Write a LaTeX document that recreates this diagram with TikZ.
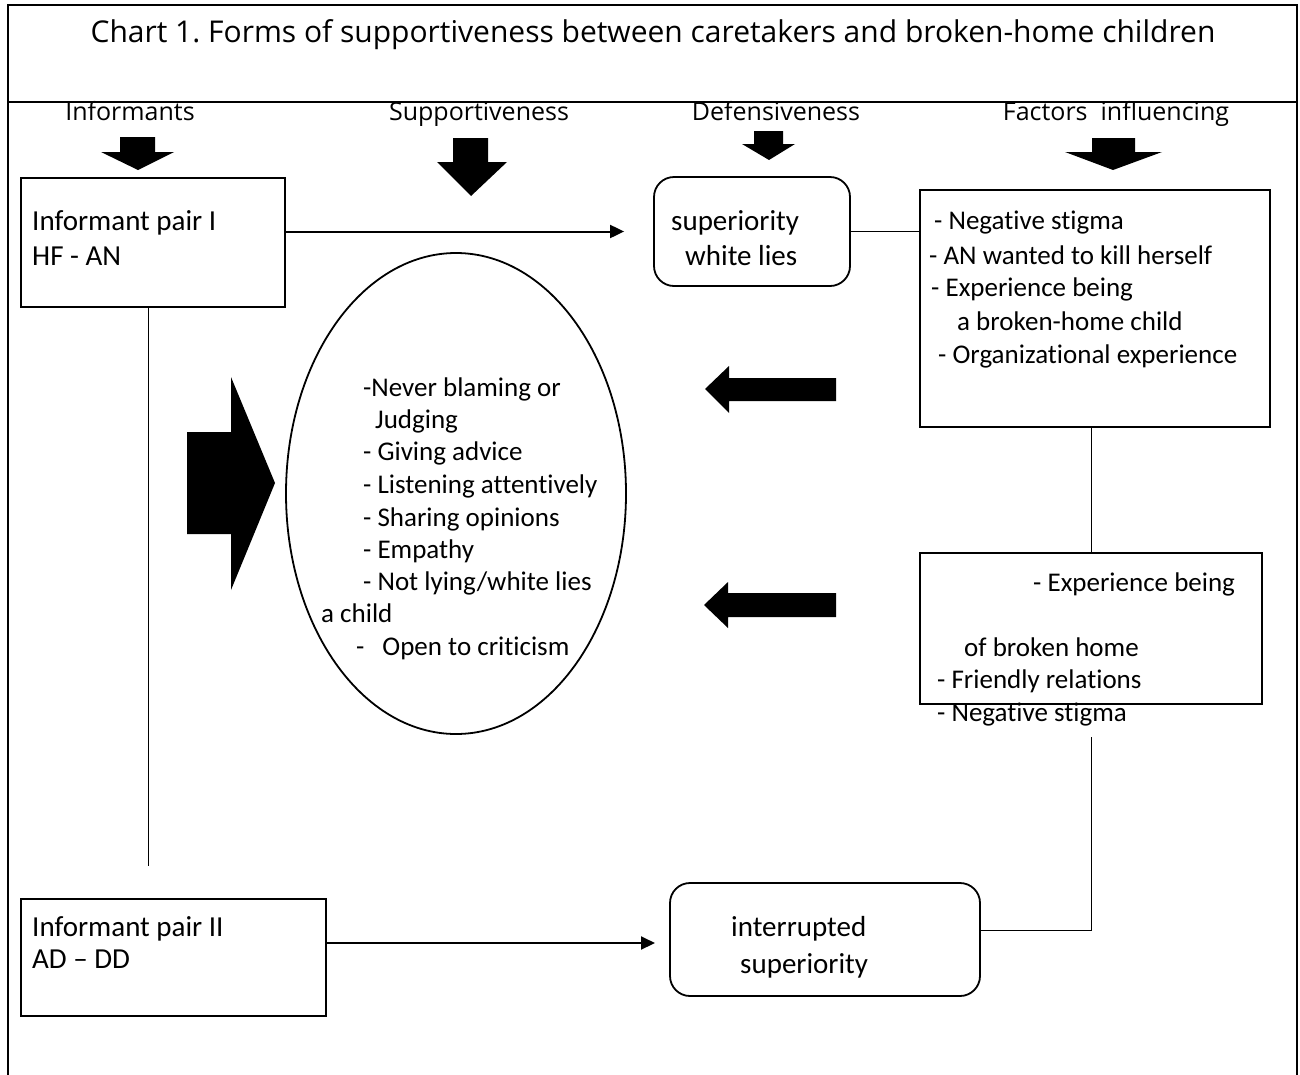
\documentclass[tikz,border=0pt]{standalone}
\usepackage{fontspec}
\setmainfont{Carlito}[Ligatures=NoCommon]
\newfontfamily\hdrfont{Open Sans}
\usetikzlibrary{arrows.meta,shapes.geometric}
\frenchspacing
\begin{document}
\begin{tikzpicture}[x=1pt,y=-1pt,
  box/.style={draw,line width=1.8pt,inner sep=0pt},
  rbox/.style={box,rounded corners=20pt},
  txt/.style={anchor=base west,inner sep=0pt,font=\fontsize{27}{32}\selectfont},
  lbl/.style={anchor=base west,inner sep=0pt,font=\fontsize{29}{34}\selectfont},
  hdr/.style={anchor=base,inner sep=0pt,font=\hdrfont\fontsize{25}{30}\selectfont},
  conn/.style={line width=1pt},
  arr/.style={line width=2pt,-{Triangle[length=14pt,width=13pt]}},
  blk/.style={fill=black}]
\useasboundingbox (0,0) rectangle (1300,1074);
\clip (0,0) rectangle (1300,1074);
% frame
\draw[line width=2pt] (8,5) rectangle (1297,1110);
\draw[line width=2pt] (8,102) -- (1297,102);
\node[inner sep=0pt,font=\hdrfont\fontsize{30}{36}\selectfont] (title) at (653,35) {Chart 1. Forms of supportiveness between caretakers and broken-home children};
% headers
\node[hdr] (h1) at (130,120) {Informants};
\node[hdr] (h2) at (479,120) {Supportiveness};
\node[hdr] (h3) at (776,120) {Defensiveness};
\node[hdr] (h4) at (1116,120) {Factors~ influencing};
% block arrows down
\fill[blk] (120,137) -- (155,137) -- (155,152) -- (174,152) -- (138,170) -- (101,152) -- (120,152) -- cycle;
\fill[blk] (453,138) -- (488,138) -- (488,162) -- (507,162) -- (471,196) -- (437,162) -- (453,162) -- cycle;
\fill[blk] (754,131) -- (783,131) -- (783,144) -- (795,144) -- (769,160) -- (742,144) -- (754,144) -- cycle;
\fill[blk] (1092,138) -- (1135,138) -- (1135,152) -- (1162,152) -- (1113,170) -- (1065,152) -- (1092,152) -- cycle;
% big right arrow
\fill[blk] (187,432) -- (231,432) -- (231,377) -- (275,483) -- (231,590) -- (231,534) -- (187,534) -- cycle;
% left arrows
\fill[blk] (836,378) -- (729,378) -- (729,366) -- (705,389) -- (729,413) -- (729,401) -- (836,401) -- cycle;
\fill[blk] (836,593) -- (728,593) -- (728,582) -- (704,605) -- (728,628) -- (728,617) -- (836,617) -- cycle;
% boxes
\node[box,minimum width=264pt,minimum height=129pt] (p1) at (153,242.5) {};
\node[rbox,minimum width=196pt,minimum height=109pt] (wl) at (752,231.5) {};
\node[box,minimum width=350pt,minimum height=237pt] (f1) at (1095,308.5) {};
\node[box,minimum width=342pt,minimum height=151pt] (f2) at (1091,628.5) {};
\node[draw,ellipse,line width=1.8pt,inner sep=0pt,minimum width=340pt,minimum height=481pt] (ell) at (456,493.5) {};
\node[box,minimum width=305pt,minimum height=117pt] (p2) at (173.5,957.5) {};
\node[rbox,minimum width=310pt,minimum height=113pt] (int) at (825,939.5) {};
% texts
\node[lbl] (tp1a) at (32,230) {Informant pair I};
\node[lbl] (tp1b) at (32,265) {HF - AN};
\node[lbl] (twa) at (671,230) {superiority};
\node[lbl] (twb) at (685,265) {white lies};
\node[txt] (tf1a) at (934,229) {- Negative stigma};
\node[txt] (tf1b) at (929,264) {- AN wanted to kill herself};
\node[txt] (tf1c) at (931,296) {- Experience being};
\node[txt] (tf1d) at (957,330) {a broken-home child};
\node[txt] (tf1e) at (938,363) {- Organizational experience};
\node[txt] (te1) at (363,396) {-Never blaming or};
\node[txt] (te2) at (375,428) {Judging};
\node[txt] (te3) at (363,460) {- Giving advice};
\node[txt] (te4) at (363,493) {- Listening attentively};
\node[txt] (te5) at (363,526) {- Sharing opinions};
\node[txt] (te6) at (363,558) {- Empathy};
\node[txt] (te7) at (363,590) {- Not lying/white lies};
\node[txt] (te8) at (321,622) {a child};
\node[txt] (te9) at (356,655) {-\hspace{18pt}Open to criticism};
\node[txt] (tf2a) at (1033,591) {- Experience being};
\node[txt] (tf2b) at (964,656) {of broken home};
\node[txt] (tf2c) at (937,688) {- Friendly relations};
\node[txt] (tf2d) at (937,721) {- Negative stigma};
\node[lbl] (tp2a) at (32,936) {Informant pair II};
\node[lbl] (tp2b) at (32,968) {AD – DD};
\node[lbl] (tia) at (731,936) {interrupted};
\node[lbl] (tib) at (740,973) {superiority};
% connectors
\draw[arr] (p1.east |- wl.west) -- ([xshift=-29pt]wl.west);
\coordinate (p1end) at (148,866);
\draw[conn] (p1.south -| p1end) -- (p1end);
\draw[conn] (wl.east) -- (wl.east -| f1.west);
\draw[conn] (f1.south -| f2.north) -- (f2.north);
\coordinate (f2b) at (1091,737);
\coordinate (f2c) at (1091,930);
\draw[conn] (f2b) -- (f2c) -- (f2c -| int.east);
\coordinate (a2) at (655,943);
\draw[arr] (a2 -| p2.east) -- (a2);
\end{tikzpicture}
\end{document}
